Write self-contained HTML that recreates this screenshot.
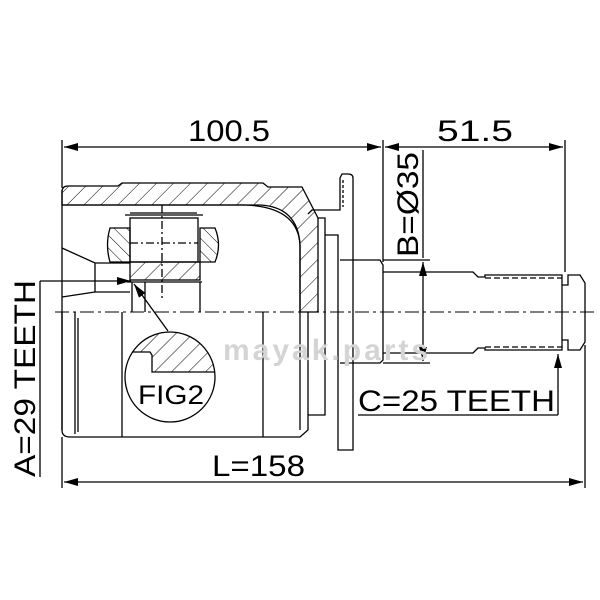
<!DOCTYPE html>
<html><head><meta charset="utf-8"><style>
html,body{margin:0;padding:0;background:#fff;}
svg{display:block;}
text{font-family:"Liberation Sans",sans-serif;fill:#000;}
</style></head><body>
<svg width="600" height="600" viewBox="0 0 600 600" xmlns="http://www.w3.org/2000/svg">
<defs>
<pattern id="h" patternUnits="userSpaceOnUse" width="12" height="12" patternTransform="rotate(45)">
<line x1="0" y1="0" x2="0" y2="12" stroke="#000" stroke-width="1"/></pattern>
<pattern id="h2" patternUnits="userSpaceOnUse" width="9" height="9" patternTransform="rotate(-45)">
<line x1="0" y1="0" x2="0" y2="9" stroke="#000" stroke-width="1"/></pattern>
<marker id="a" markerWidth="14" markerHeight="8" refX="14" refY="4" orient="auto" markerUnits="userSpaceOnUse">
<path d="M0,0 L14,4 L0,8 Z" fill="#000"/></marker>
<clipPath id="c"><circle cx="170" cy="377" r="45"/></clipPath>
</defs>
<g stroke="#000" stroke-width="1.3" fill="none">
<line x1="62" y1="140" x2="62" y2="188"/>
<line x1="383" y1="140" x2="383" y2="262"/>
<line x1="565" y1="140" x2="565" y2="272"/>
<line x1="200" y1="147" x2="64" y2="147" marker-end="url(#a)"/>
<line x1="200" y1="147" x2="381" y2="147" marker-end="url(#a)"/>
<line x1="470" y1="147" x2="385" y2="147" marker-end="url(#a)"/>
<line x1="470" y1="147" x2="563" y2="147" marker-end="url(#a)"/>
<line x1="423" y1="150" x2="423" y2="258"/>
<line x1="383" y1="260" x2="430" y2="260"/>
<line x1="383" y1="363" x2="430" y2="363"/>
<line x1="423" y1="310" x2="423" y2="262" marker-end="url(#a)"/>
<line x1="423" y1="310" x2="423" y2="361" marker-end="url(#a)"/>
<line x1="358" y1="415" x2="558" y2="415"/>
<line x1="558" y1="415" x2="558" y2="354" marker-end="url(#a)"/>
<line x1="585" y1="345" x2="585" y2="488"/>
<line x1="62" y1="437" x2="62" y2="488"/>
<line x1="300" y1="482" x2="64" y2="482" marker-end="url(#a)"/>
<line x1="300" y1="482" x2="583" y2="482" marker-end="url(#a)"/>
<line x1="40" y1="281" x2="40" y2="477"/>
<line x1="40" y1="281" x2="131" y2="281" marker-end="url(#a)"/>
<line x1="168" y1="331" x2="134" y2="284" marker-end="url(#a)"/>
<path d="M62,205 L62,192 Q62,186 68,186 L118,186 L122,183 L263,183 L268,187 L302,187 L318,218 L318,312 L300,312 L300,245 Q298,207 260,205 Z" fill="url(#h)"/>
<path d="M62,205 L245,205 Q298,207 300,245 L300,312" />
<line x1="62" y1="190" x2="62" y2="430"/>
<path d="M62,312 L62,430 Q62,437 70,437 L300,437 L308,430 L308,312"/>
<line x1="75" y1="312" x2="75" y2="434"/><line x1="78" y1="318" x2="78" y2="432"/>
<line x1="122" y1="312" x2="122" y2="437"/>
<line x1="263" y1="312" x2="263" y2="437"/>
<line x1="300" y1="312" x2="300" y2="430"/>
<path d="M318,218 L325,218 L325,415 L308,415"/>
<path d="M325,235 L338,235 L338,450 L353,450 L353,178 Q353,174 348,174 L342,174 L340,178 L340,210 L312,210 L308,214"/>
<path d="M343,180 L343,207" stroke-dasharray="3,2"/>
<path d="M340,260 L380,260 L383,265 L383,360 L380,363 L340,363"/>
<path d="M383,272 L473,272 L478,277 L485,277 L485,275 L562,275 L562,350 L485,350 L485,348 L478,348 L473,353 L383,353"/>
<line x1="485" y1="278" x2="562" y2="278" stroke-dasharray="6,3"/>
<line x1="485" y1="347" x2="562" y2="347" stroke-dasharray="6,3"/>
<path d="M562,285 L568,285 L568,275 L580,275 L585,283 L585,342 L580,350 L568,350 L568,340 L562,340"/>
<path d="M62,248 L95,263 L130,263 M62,297 L95,292 L130,292 M95,263 L95,292"/>
<path d="M110,228 Q105,245 110,262 L130,262 L130,228 Z" fill="url(#h2)"/>
<path d="M200,228 L215,228 Q222,245 215,262 L200,262 Z" fill="url(#h2)"/>
<rect x="130" y="218" width="68" height="44"/>
<path d="M125,215 L203,215 M130,213 L197,213"/>
<line x1="130" y1="243" x2="198" y2="243" stroke-dasharray="8,3,2,3"/>
<line x1="162" y1="205" x2="162" y2="300" stroke-dasharray="8,3,2,3"/>
<rect x="130" y="262" width="70" height="18" fill="url(#h)"/>
<line x1="127" y1="282" x2="202" y2="282"/>
<line x1="132" y1="282" x2="132" y2="312"/><line x1="145" y1="282" x2="145" y2="312"/><line x1="200" y1="282" x2="200" y2="312"/>
<line x1="55" y1="312" x2="595" y2="312" stroke-dasharray="14,4,3,4" stroke-width="1"/>
<circle cx="170" cy="377" r="45" fill="#fff"/>
<path clip-path="url(#c)" d="M120,352 L150,352 L152,355 L152,372 L220,372 L220,320 L120,320 Z" fill="url(#h)"/>
</g>
<text x="223" y="360" font-family="Liberation Serif,serif" font-size="30" font-weight="bold" style="fill:#d4d4d4;letter-spacing:3px">mayak.parts</text>
<text x="188" y="141" font-size="30" textLength="82" lengthAdjust="spacingAndGlyphs">100.5</text>
<text x="437" y="141" font-size="30" textLength="76" lengthAdjust="spacingAndGlyphs">51.5</text>
<text x="212" y="476" font-size="30" textLength="93" lengthAdjust="spacingAndGlyphs">L=158</text>
<text x="358" y="411" font-size="30" textLength="197" lengthAdjust="spacingAndGlyphs">C=25 TEETH</text>
<text x="138" y="404" font-size="27" textLength="66" lengthAdjust="spacingAndGlyphs">FIG2</text>
<text transform="translate(35,477) rotate(-90)" font-size="30" textLength="197" lengthAdjust="spacingAndGlyphs">A=29 TEETH</text>
<text transform="translate(418,257) rotate(-90)" font-size="30" textLength="105" lengthAdjust="spacingAndGlyphs">B=Ø35</text>
</svg>
</body></html>
